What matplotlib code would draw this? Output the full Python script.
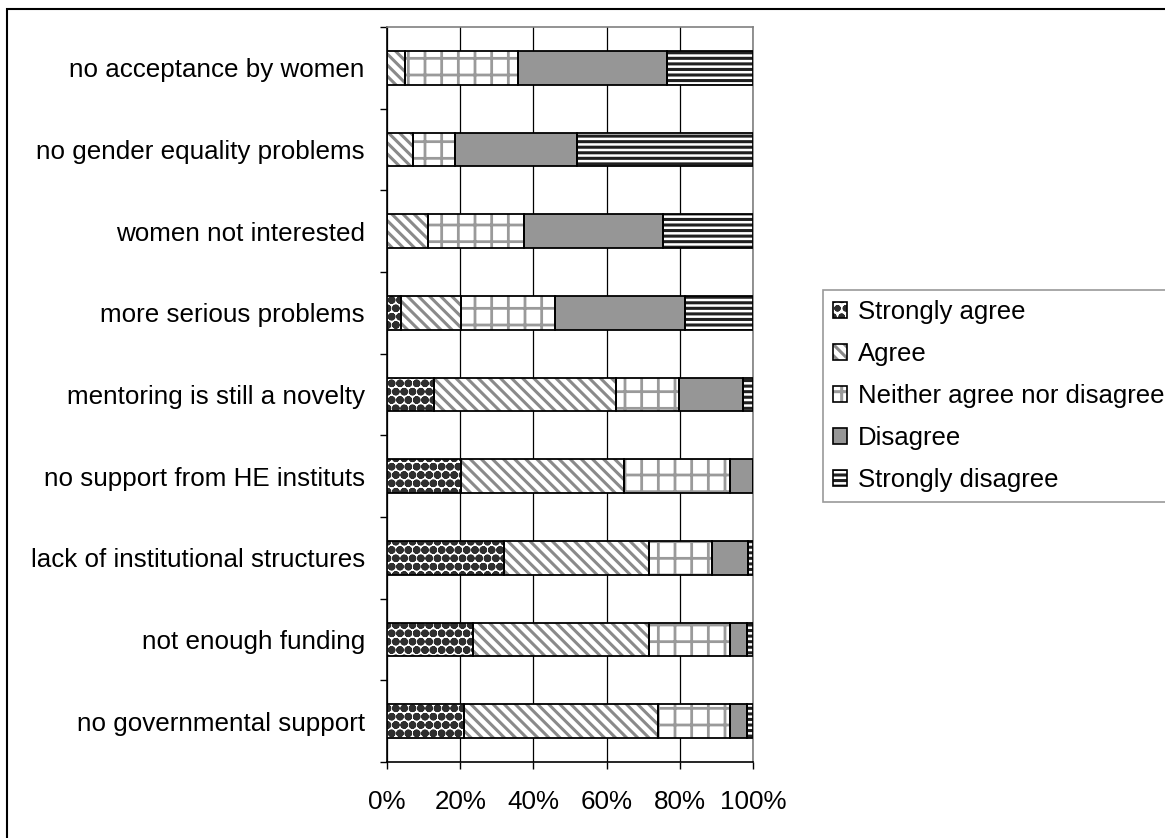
import numpy as np
import matplotlib.pyplot as plt
from matplotlib.patches import Patch, Rectangle
from matplotlib.legend_handler import HandlerTuple

plt.rcParams['font.family'] = ['Liberation Sans', 'DejaVu Sans']
plt.rcParams['hatch.linewidth'] = 2.2

# survey statements, top to bottom
statements = ["no acceptance by women", "no gender equality problems", "women not interested",
              "more serious problems", "mentoring is still a novelty", "no support from HE instituts",
              "lack of institutional structures", "not enough funding", "no governmental support"]

answers = ["Strongly agree", "Agree", "Neither agree nor disagree", "Disagree", "Strongly disagree"]

# share of answers per statement (%)
strongly_agree = [0.0, 0.0, 0.0, 3.8, 12.8, 20.1, 31.9, 23.5, 21.0]
agree = [4.8, 7.2, 11.3, 16.3, 49.9, 44.7, 39.6, 48.0, 53.0]
neither = [30.9, 11.4, 26.0, 25.9, 17.2, 28.8, 17.2, 22.1, 19.6]
disagree = [40.7, 33.3, 38.1, 35.3, 17.5, 6.4, 9.8, 4.8, 4.8]
strongly_disagree = [23.6, 48.1, 24.6, 18.7, 2.6, 0.0, 1.5, 1.6, 1.6]

xticks = [0, 20, 40, 60, 80, 100]

series = [strongly_agree, agree, neither, disagree, strongly_disagree]
# (facecolor, hatch, hatch colour, hatch width)
styles = [("white", "oo", "#2e2e2e", 3.0),
          ("white", "\\\\\\", "#8a8a8a", 2.2),
          ("white", "+", "#9a9a9a", 2.0),
          ("#969696", "", "#969696", 2.0),
          ("white", "---", "#202020", 2.2)]

fig = plt.figure(figsize=(11.65, 8.38), dpi=100)
ax = fig.add_axes([387 / 1165, 1 - 762 / 838, 366 / 1165, 735 / 838])

y = np.arange(len(statements))
left = np.zeros(len(statements))
handles = []
for vals, (fc, hatch, hc, hlw), name in zip(series, styles, answers):
    vals = np.array(vals)
    with plt.rc_context({"hatch.linewidth": hlw}):
        ax.barh(y, vals, left=left, height=0.41, color=fc, edgecolor=hc, hatch=hatch,
                linewidth=0, zorder=3)
        fill_h = Patch(facecolor=fc, edgecolor=hc, hatch=hatch, linewidth=0)
    ax.barh(y, vals, left=left, height=0.41, fill=False, edgecolor="black",
            linewidth=1.3, zorder=4)
    left += vals
    handles.append((fill_h, Patch(fill=False, edgecolor="black", linewidth=1.2)))

ax.set_xlim(0, 100)
ax.set_ylim(len(statements) - 0.5, -0.5)
ax.set_xticks(xticks)
ax.set_xticklabels([f"{v}%" for v in xticks], fontsize=18.7)
ax.set_yticks(y)
ax.set_yticklabels(statements, fontsize=18.7)
ax.set_yticks(np.arange(len(statements) + 1) - 0.5, minor=True)
ax.tick_params(axis="y", which="major", length=0, pad=16)
ax.tick_params(axis="y", which="minor", length=5, width=1, direction="out")
ax.tick_params(axis="x", length=5, width=1, pad=15)

ax.xaxis.grid(True, color="black", linewidth=0.9, zorder=0)
ax.set_axisbelow(True)
for side in ["top", "right"]:
    ax.spines[side].set_color("#808080")
    ax.spines[side].set_linewidth(1.2)
for side in ["left", "bottom"]:
    ax.spines[side].set_color("black")
    ax.spines[side].set_linewidth(1.2)

leg = fig.legend(handles, answers, loc="upper left", bbox_to_anchor=(823 / 1165, 1 - 290 / 838),
                 handler_map={tuple: HandlerTuple(ndivide=1, pad=0)},
                 fontsize=18.5, frameon=True, fancybox=False, handlelength=0.55, handleheight=0.55,
                 handletextpad=0.4, labelspacing=0.7, borderpad=0.4, borderaxespad=0)
leg.get_frame().set_edgecolor("#808080")
leg.get_frame().set_linewidth(1.2)

# outer chart border
fig.patches.append(Rectangle((7 / 1165, -0.1), 1.2, 1 - 9 / 838 + 0.1, transform=fig.transFigure,
                             fill=False, edgecolor="black", linewidth=1.5, zorder=0))

fig.savefig("out.png", dpi=100, facecolor="white")
